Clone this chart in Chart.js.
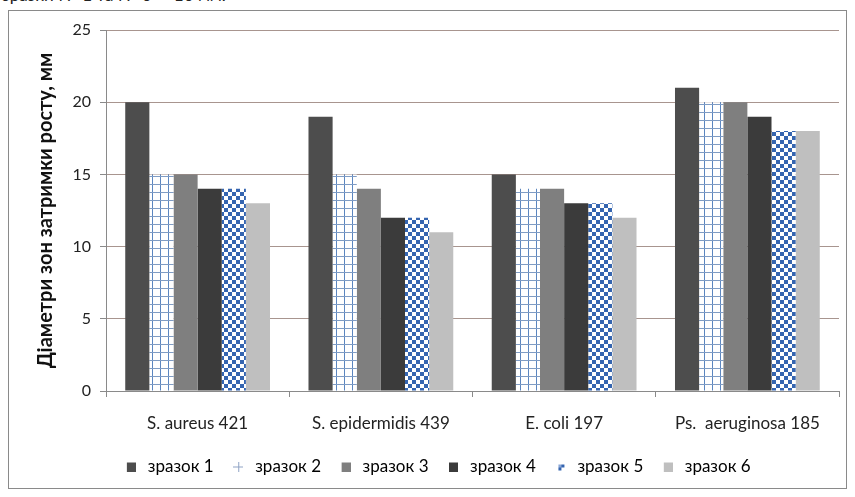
<!DOCTYPE html>
<html>
<head>
<meta charset="utf-8">
<script src="https://cdn.jsdelivr.net/npm/chart.js@4/dist/chart.umd.min.js"></script>
<style>
html,body{margin:0;padding:0;background:#fff;width:855px;height:497px;overflow:hidden;}
#wrap{position:absolute;left:0;top:0;width:855px;height:497px;}
#frame{position:absolute;left:8px;top:10px;width:837px;height:477px;border:1px solid #8a8a8a;pointer-events:none;}
#cut{position:absolute;left:2px;top:-16px;font:17px Lato,"Open Sans",sans-serif;color:#222;white-space:nowrap;}
</style>
</head>
<body>
<div id="cut">зразки № 1 та № 6 — 16 мм.</div>
<div id="wrap"><canvas id="c" width="855" height="497"></canvas></div>
<div id="frame"></div>
<script>
const categories = ["S. aureus 421", "S. epidermidis 439", "E. coli 197", "Ps.  aeruginosa 185"];
const seriesNames = ["зразок 1", "зразок 2", "зразок 3", "зразок 4", "зразок 5", "зразок 6"];
const sample1 = [20, 19, 15, 21];
const sample2 = [15, 15, 14, 20];
const sample3 = [15, 14, 14, 20];
const sample4 = [14, 12, 13, 19];
const sample5 = [14, 12, 13, 18];
const sample6 = [13, 11, 12, 18];
const yTicks = [0, 5, 10, 15, 20, 25];
const yTitle = "Діаметри зон затримки росту, мм";

function mk(w,h){const c=document.createElement('canvas');c.width=w;c.height=h;return c;}
function gridPattern(){
  const c=mk(8,8),x=c.getContext('2d');
  x.fillStyle='#fff';x.fillRect(0,0,8,8);
  x.fillStyle='#5b86c0';x.fillRect(0,0,1,8);
  x.fillStyle='#7f9cc4';x.fillRect(0,0,8,1);
  return x.createPattern(c,'repeat');
}
function checkPattern(){
  const c=mk(8,8),x=c.getContext('2d');
  x.fillStyle='#fff';x.fillRect(0,0,8,8);
  x.fillStyle='#3565b0';x.fillRect(0,0,4,4);x.fillRect(4,4,4,4);
  return x.createPattern(c,'repeat');
}
function boxIcon(col){const c=mk(10,10),x=c.getContext('2d');x.fillStyle=col;x.fillRect(1,1,9,9);return c;}
function plusIcon(){const c=mk(10,10),x=c.getContext('2d');x.fillStyle='#8fa3c4';x.fillRect(0,5,10,1);x.fillRect(5,0,1,10);return c;}
function checkIcon(){const c=mk(10,10),x=c.getContext('2d');x.fillStyle='#3565b0';x.fillRect(6,3,3,3);x.fillRect(3,6,3,3);x.fillStyle='#8aa6d6';x.fillRect(3,3,3,3);return c;}

const ctx=document.getElementById('c').getContext('2d');
const fills=['#4d4d4d',gridPattern(),'#7f7f7f','#3b3b3b',checkPattern(),'#bfbfbf'];
const icons=[boxIcon('#4d4d4d'),plusIcon(),boxIcon('#7f7f7f'),boxIcon('#3b3b3b'),checkIcon(),boxIcon('#bfbfbf')];
const values=[sample1,sample2,sample3,sample4,sample5,sample6];
const FONT='Lato, "Open Sans", sans-serif';

new Chart(ctx,{
  type:'bar',
  data:{labels:categories,datasets:values.map((v,i)=>({label:seriesNames[i],data:v,backgroundColor:fills[i],borderWidth:0,categoryPercentage:0.79,barPercentage:1.0}))},
  options:{
    responsive:false,animation:false,
    layout:{padding:{left:34,top:30,right:16,bottom:12}},
    plugins:{
      tooltip:{enabled:false},
      legend:{position:'bottom',
        labels:{usePointStyle:true,padding:16,color:'#222',font:{family:FONT,size:17},
          generateLabels:(chart)=>chart.data.datasets.map((d,i)=>({text:d.label,pointStyle:icons[i],fillStyle:'#000',strokeStyle:'#000',lineWidth:0,datasetIndex:i,hidden:false}))
        }
      }
    },
    scales:{
      x:{
        grid:{display:true,drawOnChartArea:false,drawTicks:true,tickLength:6,color:'#8a8a8a',offset:true},
        border:{color:'#8a8a8a'},
        ticks:{color:'#222',font:{family:FONT,size:17},padding:16},
        afterFit:(s)=>{s.height=51;}
      },
      y:{
        min:0,max:25,
        afterBuildTicks:(s)=>{s.ticks=yTicks.map(v=>({value:v}));},
        grid:{color:'#a8958f',drawTicks:true,tickLength:6,tickColor:'#8a8a8a'},
        border:{color:'#8a8a8a'},
        ticks:{color:'#222',font:{family:FONT,size:16},padding:9},
        title:{display:true,text:yTitle,color:'#111',font:{family:FONT,size:20,weight:'bold'},padding:{top:0,bottom:0}},
        afterFit:(s)=>{s.width=72;}
      }
    }
  }
});
</script>
</body>
</html>
